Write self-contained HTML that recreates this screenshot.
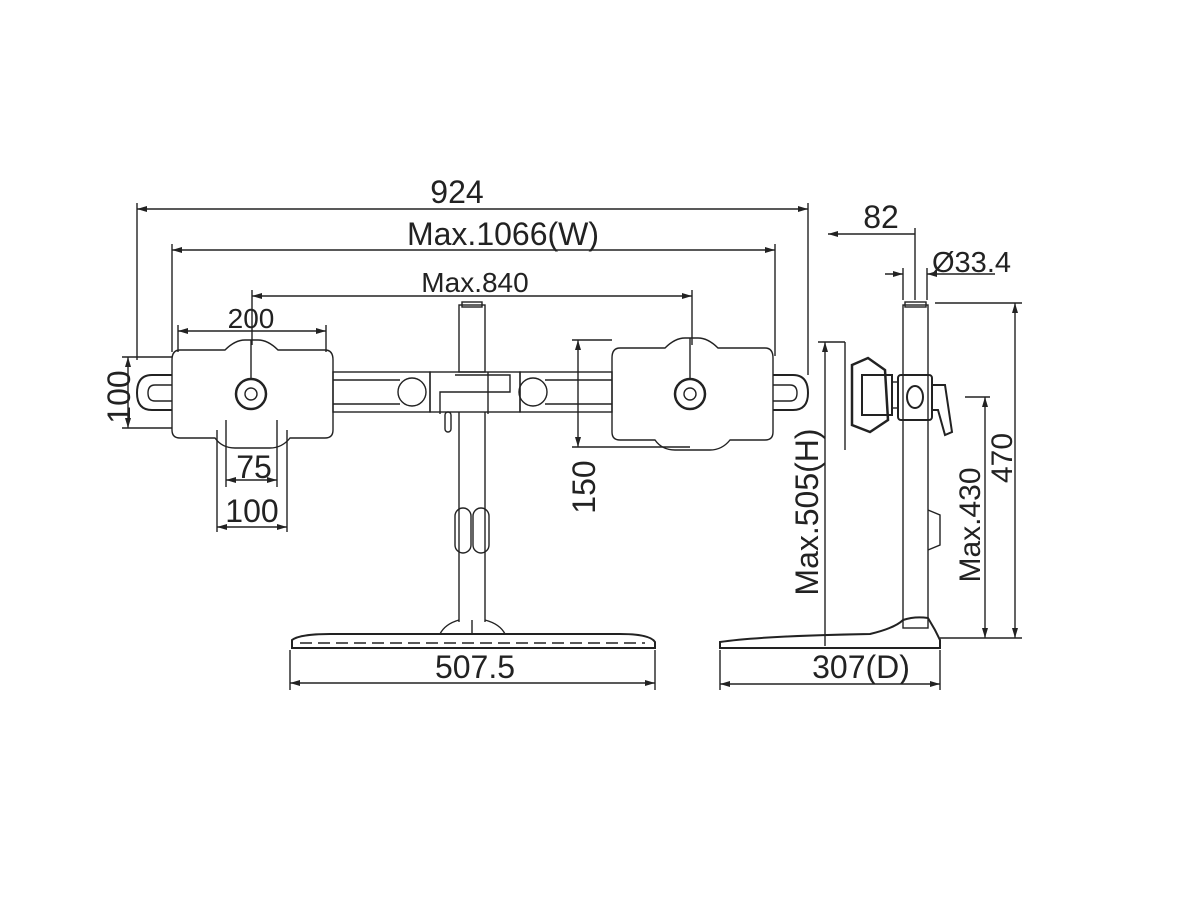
<!DOCTYPE html>
<html><head><style>
html,body{margin:0;padding:0;background:#fff;}
svg{display:block;}
text{font-family:"Liberation Sans",sans-serif;fill:#222;}
</style></head><body>
<svg width="1200" height="900" viewBox="0 0 1200 900" xmlns="http://www.w3.org/2000/svg">
<defs>
<marker id="a" markerWidth="10" markerHeight="6" refX="10" refY="3" orient="auto-start-reverse" markerUnits="userSpaceOnUse">
<path d="M0,0 L10,3 L0,6 z" fill="#222"/></marker>
</defs>
<g stroke="#222" stroke-width="1.4" fill="none">
<line x1="137" y1="209" x2="808" y2="209" marker-start="url(#a)" marker-end="url(#a)"/>
<line x1="137" y1="203" x2="137" y2="360"/>
<line x1="808" y1="203" x2="808" y2="375"/>
<line x1="172" y1="250" x2="775" y2="250" marker-start="url(#a)" marker-end="url(#a)"/>
<line x1="172" y1="244" x2="172" y2="352"/>
<line x1="775" y1="244" x2="775" y2="356"/>
<line x1="252" y1="296" x2="692" y2="296" marker-start="url(#a)" marker-end="url(#a)"/>
<line x1="252" y1="290" x2="252" y2="345"/>
<line x1="692" y1="290" x2="692" y2="345"/>
<line x1="178" y1="331" x2="326" y2="331" marker-start="url(#a)" marker-end="url(#a)"/>
<line x1="178" y1="325" x2="178" y2="352"/>
<line x1="326" y1="325" x2="326" y2="352"/>
<line x1="128" y1="357" x2="128" y2="428" marker-start="url(#a)" marker-end="url(#a)"/>
<line x1="122" y1="357" x2="172" y2="357"/>
<line x1="122" y1="428" x2="172" y2="428"/>
<line x1="226" y1="480" x2="277" y2="480" marker-start="url(#a)" marker-end="url(#a)"/>
<line x1="226" y1="420" x2="226" y2="487"/>
<line x1="277" y1="420" x2="277" y2="487"/>
<line x1="217" y1="527" x2="287" y2="527" marker-start="url(#a)" marker-end="url(#a)"/>
<line x1="217" y1="430" x2="217" y2="532"/>
<line x1="287" y1="430" x2="287" y2="532"/>
<line x1="578" y1="340" x2="578" y2="447" marker-start="url(#a)" marker-end="url(#a)"/>
<line x1="572" y1="340" x2="612" y2="340"/>
<line x1="572" y1="447" x2="690" y2="447"/>
<path d="M180,350 L225,350 Q235,340 245,340 L258,340 Q268,340 278,350 L325,350 Q333,350 333,360 L333,430 Q333,438 325,438 L290,438 Q282,448 270,448 L235,448 Q222,448 215,438 L180,438 Q172,438 172,430 L172,360 Q172,350 180,350 Z"/>
<circle cx="251" cy="394" r="15" stroke-width="2.5"/>
<circle cx="251" cy="394" r="6"/>
<line x1="251" y1="340" x2="251" y2="379"/>
<path d="M620,348 L665,348 Q675,338 685,338 L698,338 Q708,338 718,348 L765,348 Q773,348 773,358 L773,432 Q773,440 765,440 L730,440 Q722,450 710,450 L675,450 Q662,450 655,440 L620,440 Q612,440 612,432 L612,358 Q612,348 620,348 Z"/>
<circle cx="690" cy="394" r="15" stroke-width="2.5"/>
<circle cx="690" cy="394" r="6"/>
<line x1="690" y1="338" x2="690" y2="379"/>
<path d="M172,375 L152,375 Q137,375 137,393 Q137,410 152,410 L172,410" stroke-width="2"/>
<path d="M172,385 L155,385 Q148,385 148,393 Q148,401 155,401 L172,401"/>
<path d="M773,375 L793,375 Q808,375 808,393 Q808,410 793,410 L773,410" stroke-width="2"/>
<path d="M773,385 L790,385 Q797,385 797,393 Q797,401 790,401 L773,401"/>
<rect x="333" y="372" width="97" height="40"/>
<path d="M333,380 L400,380 M333,404 L400,404"/>
<circle cx="412" cy="392" r="14"/>
<rect x="520" y="372" width="92" height="40"/>
<path d="M612,380 L545,380 M612,404 L545,404"/>
<circle cx="533" cy="392" r="14"/>
<rect x="430" y="372" width="90" height="40"/>
<path d="M455,375 L510,375 L510,392 L440,392 L440,414"/>
<line x1="488" y1="372" x2="488" y2="414"/>
<rect x="445" y="412" width="6" height="20" rx="3"/>
<rect x="459" y="305" width="26" height="67"/>
<rect x="462" y="302" width="20" height="5"/>
<line x1="459" y1="412" x2="459" y2="622"/>
<line x1="485" y1="412" x2="485" y2="622"/>
<rect x="455" y="508" width="16" height="45" rx="8"/>
<rect x="473" y="508" width="16" height="45" rx="8"/>
<path d="M459,620 Q445,624 440,634 L505,634 Q500,624 485,620"/>
<path d="M292,640 Q300,634 330,634 L620,634 Q650,634 655,642 L655,648 L292,648 Z" stroke-width="2"/>
<path d="M300,643 L645,643" stroke-dasharray="12 6"/>
<line x1="472" y1="620" x2="472" y2="634"/>
<line x1="290" y1="683" x2="655" y2="683" marker-start="url(#a)" marker-end="url(#a)"/>
<line x1="290" y1="650" x2="290" y2="690"/>
<line x1="655" y1="650" x2="655" y2="690"/>

<line x1="828" y1="234" x2="915" y2="234" marker-start="url(#a)"/>
<line x1="915" y1="228" x2="915" y2="300"/>
<line x1="903" y1="268" x2="903" y2="300"/>
<line x1="927" y1="268" x2="927" y2="300"/>
<line x1="885" y1="274" x2="903" y2="274" marker-end="url(#a)"/>
<line x1="995" y1="274" x2="927" y2="274" marker-end="url(#a)"/>
<rect x="903" y="305" width="25" height="323"/>
<rect x="905" y="302" width="21" height="5"/>
<line x1="935" y1="303" x2="1022" y2="303"/>
<line x1="1015" y1="303" x2="1015" y2="638" marker-start="url(#a)" marker-end="url(#a)"/>
<line x1="965" y1="397" x2="990" y2="397"/>
<line x1="985" y1="397" x2="985" y2="638" marker-start="url(#a)" marker-end="url(#a)"/>
<line x1="940" y1="638" x2="1022" y2="638"/>
<line x1="818" y1="342" x2="845" y2="342"/>
<line x1="845" y1="342" x2="845" y2="450"/>
<line x1="825" y1="342" x2="825" y2="646" marker-start="url(#a)"/>
<path d="M852,365 L868,358 L885,370 L888,420 L870,432 L852,425 Z" stroke-width="2.5"/>
<rect x="862" y="375" width="30" height="40" stroke-width="2"/>
<rect x="892" y="382" width="6" height="26"/>
<rect x="898" y="375" width="34" height="45" rx="3" stroke-width="2"/>
<ellipse cx="915" cy="397" rx="8" ry="11" stroke-width="2"/>
<path d="M932,385 L945,385 L952,432 L945,435 L938,410 L932,410" stroke-width="2"/>
<path d="M928,510 L940,515 L940,545 L928,550"/>
<path d="M903,620 Q915,616 928,618 L935,630 L940,640 L940,648 L720,648 L720,642 Q760,636 870,634 Q895,628 903,620 Z" stroke-width="2"/>
<line x1="720" y1="684" x2="940" y2="684" marker-start="url(#a)" marker-end="url(#a)"/>
<line x1="720" y1="650" x2="720" y2="690"/>
<line x1="940" y1="650" x2="940" y2="690"/>
</g>
<g font-size="32">
<text x="457" y="203" text-anchor="middle">924</text>
<text x="503" y="245" text-anchor="middle">Max.1066(W)</text>
<text x="475" y="292" text-anchor="middle" font-size="28">Max.840</text>
<text x="251" y="328" text-anchor="middle" font-size="28">200</text>
<text x="254" y="478" text-anchor="middle">75</text>
<text x="252" y="522" text-anchor="middle">100</text>
<text x="475" y="678" text-anchor="middle">507.5</text>
<text x="861" y="678" text-anchor="middle">307(D)</text>
<text x="881" y="228" text-anchor="middle">82</text>
<text x="932" y="272" font-size="29">Ø33.4</text>
<text transform="translate(130,397) rotate(-90)" text-anchor="middle">100</text>
<text transform="translate(595,487) rotate(-90)" text-anchor="middle">150</text>
<text transform="translate(818,512) rotate(-90)" text-anchor="middle">Max.505(H)</text>
<text transform="translate(980,525) rotate(-90)" text-anchor="middle" font-size="30">Max.430</text>
<text transform="translate(1012,458) rotate(-90)" text-anchor="middle" font-size="30">470</text>
</g>
</svg>
</body></html>
